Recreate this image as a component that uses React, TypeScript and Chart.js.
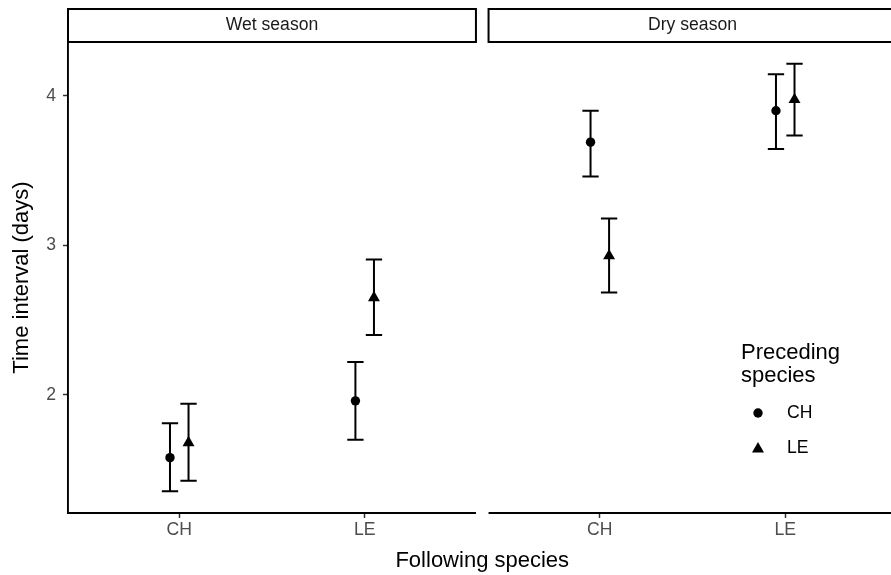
import React, { useEffect, useRef } from 'react';
import { Chart, registerables } from 'chart.js';

Chart.register(...registerables);

// ---------- data ----------
const seasons = ['Wet season', 'Dry season'];
const followingSpecies = ['CH', 'LE'];
const precedingSpecies = ['CH', 'LE'];

// order of values: [Wet CH, Wet LE, Dry CH, Dry LE] (following species within season)
const meanPrecCH = [1.58, 1.96, 3.69, 3.9];
const lowPrecCH = [1.355, 1.7, 3.46, 3.645];
const highPrecCH = [1.81, 2.22, 3.9, 4.145];

const meanPrecLE = [1.68, 2.65, 2.93, 3.975];
const lowPrecLE = [1.426, 2.4, 2.684, 3.734];
const highPrecLE = [1.94, 2.905, 3.18, 4.214];

const yTicks = [2, 3, 4];
const yMin = 1.21;
const yMax = 4.36;

// ---------- layout / style constants ----------
const FONT = '"Liberation Sans", Arial, Helvetica, sans-serif';
const CAT_EXPAND = 0.6;
const PANEL_SPAN = followingSpecies.length - 1 + 2 * CAT_EXPAND;
const PANEL_GAP = 0.068;
const DODGE = 0.05;
const CAP_HALF = 0.044;
const xMin = 1 - CAT_EXPAND;
const xMax = xMin + seasons.length * PANEL_SPAN + (seasons.length - 1) * PANEL_GAP;

const panelOffset = (s: number) => s * (PANEL_SPAN + PANEL_GAP);
const xTickValues: number[] = [];
const xTickLabels: string[] = [];
seasons.forEach((_, s) => {
  followingSpecies.forEach((f, k) => {
    xTickValues.push(1 + k + panelOffset(s));
    xTickLabels.push(f);
  });
});

const xPos = (i: number, dodge: number) => {
  const s = Math.floor(i / followingSpecies.length);
  const k = i % followingSpecies.length;
  return 1 + k + panelOffset(s) + dodge;
};

const drawTriangle = (ctx: CanvasRenderingContext2D, x: number, y: number, r: number) => {
  ctx.beginPath();
  ctx.moveTo(x, y - r);
  ctx.lineTo(x + r * Math.sin(Math.PI * 2 / 3), y - r * Math.cos(Math.PI * 2 / 3));
  ctx.lineTo(x + r * Math.sin(Math.PI * 4 / 3), y - r * Math.cos(Math.PI * 4 / 3));
  ctx.closePath();
  ctx.fill();
};

const errorBarPlugin = {
  id: 'errorBars',
  beforeDatasetsDraw(chart: any) {
    const { ctx } = chart;
    const x = chart.scales.x;
    const y = chart.scales.y;
    ctx.save();
    ctx.strokeStyle = '#000';
    ctx.lineWidth = 2;
    chart.data.datasets.forEach((ds: any) => {
      ds.data.forEach((pt: any, i: number) => {
        const px = x.getPixelForValue(pt.x);
        const pl = x.getPixelForValue(pt.x - CAP_HALF);
        const pr = x.getPixelForValue(pt.x + CAP_HALF);
        const yl = y.getPixelForValue(ds.lo[i]);
        const yh = y.getPixelForValue(ds.hi[i]);
        ctx.beginPath();
        ctx.moveTo(px, yl);
        ctx.lineTo(px, yh);
        ctx.moveTo(pl, yl);
        ctx.lineTo(pr, yl);
        ctx.moveTo(pl, yh);
        ctx.lineTo(pr, yh);
        ctx.stroke();
      });
    });
    ctx.restore();
  },
};

const facetPlugin = {
  id: 'facets',
  afterDraw(chart: any) {
    const { ctx, chartArea } = chart;
    const x = chart.scales.x;
    ctx.save();
    seasons.forEach((label, s) => {
      const left = s === 0 ? chartArea.left : x.getPixelForValue(xMin + panelOffset(s));
      const right = s === seasons.length - 1 ? chartArea.right : x.getPixelForValue(xMin + PANEL_SPAN + panelOffset(s));
      // strip
      const stripH = 33;
      const top = chartArea.top - stripH;
      ctx.fillStyle = '#fff';
      ctx.fillRect(left, top, right - left, stripH);
      ctx.strokeStyle = '#000';
      ctx.lineWidth = 2;
      ctx.strokeRect(left, top, right - left, stripH);
      ctx.fillStyle = '#1A1A1A';
      ctx.font = `17.6px ${FONT}`;
      ctx.textAlign = 'center';
      ctx.textBaseline = 'middle';
      ctx.fillText(label, (left + right) / 2, top + stripH / 2);
      // x axis line of the panel
      ctx.beginPath();
      ctx.strokeStyle = '#000';
      ctx.lineWidth = 1.9;
      ctx.moveTo(left - (s === 0 ? 1 : 0), chartArea.bottom);
      ctx.lineTo(right, chartArea.bottom);
      ctx.stroke();
    });
    ctx.restore();
  },
};

const legendPlugin = {
  id: 'ggLegend',
  afterDraw(chart: any) {
    const { ctx } = chart;
    ctx.save();
    ctx.fillStyle = '#000';
    ctx.textAlign = 'left';
    ctx.textBaseline = 'alphabetic';
    ctx.font = `22px ${FONT}`;
    ctx.fillText('Preceding', 741, 359);
    ctx.fillText('species', 741, 382);
    ctx.font = `17.6px ${FONT}`;
    ctx.textBaseline = 'middle';
    precedingSpecies.forEach((sp, i) => {
      const cy = 413 + i * 35;
      const ds = chart.data.datasets[i];
      ctx.fillStyle = '#000';
      if (ds.pointStyle === 'triangle') {
        drawTriangle(ctx, 758, cy + 1, ds.pointRadius);
      } else {
        ctx.beginPath();
        ctx.arc(758, cy, ds.pointRadius, 0, Math.PI * 2);
        ctx.fill();
      }
      ctx.fillText(sp, 787, cy);
    });
    ctx.restore();
  },
};

export default function App() {
  const ref = useRef<HTMLCanvasElement | null>(null);

  useEffect(() => {
    if (!ref.current) return;
    const chart = new Chart(ref.current, {
      type: 'scatter',
      data: {
        datasets: [
          {
            label: precedingSpecies[0],
            data: meanPrecCH.map((v, i) => ({ x: xPos(i, -DODGE), y: v })),
            lo: lowPrecCH,
            hi: highPrecCH,
            pointStyle: 'circle',
            pointRadius: 4.7,
            pointHoverRadius: 4.7,
            backgroundColor: '#000',
            borderColor: '#000',
            borderWidth: 0,
          } as any,
          {
            label: precedingSpecies[1],
            data: meanPrecLE.map((v, i) => ({ x: xPos(i, DODGE), y: v })),
            lo: lowPrecLE,
            hi: highPrecLE,
            pointStyle: 'triangle',
            pointRadius: 6.9,
            pointHoverRadius: 6.9,
            backgroundColor: '#000',
            borderColor: '#000',
            borderWidth: 0,
          } as any,
        ],
      },
      options: {
        responsive: false,
        animation: false,
        layout: { autoPadding: false, padding: { top: 42, right: 3.5, left: 0, bottom: 0 } },
        plugins: {
          legend: { display: false },
          tooltip: { enabled: false },
        },
        scales: {
          x: {
            type: 'linear',
            min: xMin,
            max: xMax,
            afterBuildTicks: (s: any) => {
              s.ticks = xTickValues.map((v) => ({ value: v }));
            },
            afterFit: (s: any) => {
              s.height = 62;
            },
            ticks: {
              autoSkip: false,
              maxRotation: 0,
              color: '#4D4D4D',
              padding: 2,
              font: { size: 17.6, family: FONT },
              callback: (_v: any, i: number) => xTickLabels[i],
            },
            grid: { drawOnChartArea: false, tickLength: 5, tickColor: '#333', tickWidth: 1.5 },
            border: { display: false },
            title: {
              display: true,
              text: 'Following species',
              color: '#000',
              font: { size: 22, family: FONT },
              padding: { top: 0, bottom: 1 },
            },
          },
          y: {
            min: yMin,
            max: yMax,
            afterBuildTicks: (s: any) => {
              s.ticks = yTicks.map((v) => ({ value: v }));
            },
            afterFit: (s: any) => {
              s.width = 68;
            },
            ticks: {
              color: '#4D4D4D',
              padding: 7,
              font: { size: 17.6, family: FONT },
            },
            grid: { drawOnChartArea: false, tickLength: 5, tickColor: '#333', tickWidth: 1.5 },
            border: { display: true, color: '#000', width: 1.9 },
            title: {
              display: true,
              text: 'Time interval (days)',
              color: '#000',
              font: { size: 22, family: FONT },
              padding: { top: 9, bottom: 0 },
            },
          },
        },
      },
      plugins: [errorBarPlugin, facetPlugin, legendPlugin],
    });
    return () => chart.destroy();
  }, []);

  return (
    <div
      style={{
        position: 'fixed',
        left: 0,
        top: 0,
        width: 891,
        height: 575,
        overflow: 'hidden',
        background: '#fff',
      }}
    >
      <canvas ref={ref} width={900} height={575} style={{ display: 'block' }} />
    </div>
  );
}
